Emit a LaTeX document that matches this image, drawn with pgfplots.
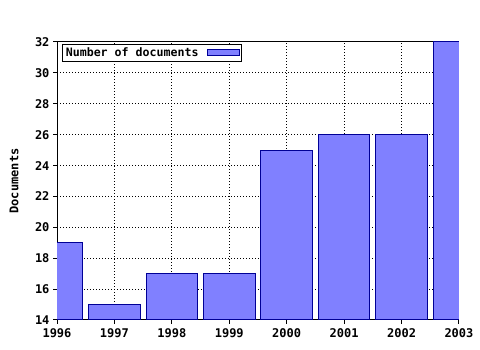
\documentclass[border=0pt]{standalone}
\usepackage{fontspec}
\setmainfont{DejaVu Sans Mono}
\usepackage{pgfplots}
\pgfplotsset{compat=1.18}
\definecolor{barfill}{RGB}{128,128,255}
\definecolor{bardraw}{RGB}{0,0,150}
\begin{document}
\begin{tikzpicture}[x=1pt,y=1pt]
\useasboundingbox[fill=white] (0,0) rectangle (480,350);
\begin{axis}[
  at={(57pt,30pt)}, anchor=south west,
  scale only axis, width=402pt, height=278pt,
  xmin=1996, xmax=2003, ymin=14, ymax=32,
  xtick={1996,...,2003}, ytick={14,16,...,32},
  minor x tick num=3,
  xtick pos=bottom, ytick pos=left,
  tick align=outside,
  major tick length=4pt, minor tick length=2pt,
  /pgf/number format/assume math mode=true,
  /pgf/number format/1000 sep={},
  ticklabel style={font=\fontsize{12}{12}\selectfont\bfseries},
  xticklabel style={yshift=-1pt},
  grid=major,
  major grid style={black, dash pattern=on 1pt off 2pt, line width=1pt},
  axis line style={black, line width=1pt},
  every tick/.style={black, line width=1pt},
  ylabel={Documents},
  ylabel style={font=\fontsize{12}{12}\selectfont\bfseries, at={(axis description cs:-0.107,0.5)}, anchor=center},
  legend style={at={(axis description cs:0.012,0.994)}, anchor=north west,
    draw=black, line width=1pt, inner xsep=1.5pt, inner ysep=1.5pt, column sep=6pt,
    font=\fontsize{11.6}{12}\selectfont\bfseries, legend cell align=left},
  legend plot pos=right,
  legend image code/.code={\draw[#1, line width=1pt] (0pt,-3pt) rectangle (32pt,3.5pt);},
  clip=true,
]
\addplot[ybar, bar width=0.9, fill=barfill, draw=bardraw, line width=1pt] coordinates {
  (1996,19) (1997,15) (1998,17) (1999,17) (2000,25) (2001,26) (2002,26) (2003,32)
};
\addlegendentry{Number of documents}
\end{axis}
\end{tikzpicture}
\end{document}
